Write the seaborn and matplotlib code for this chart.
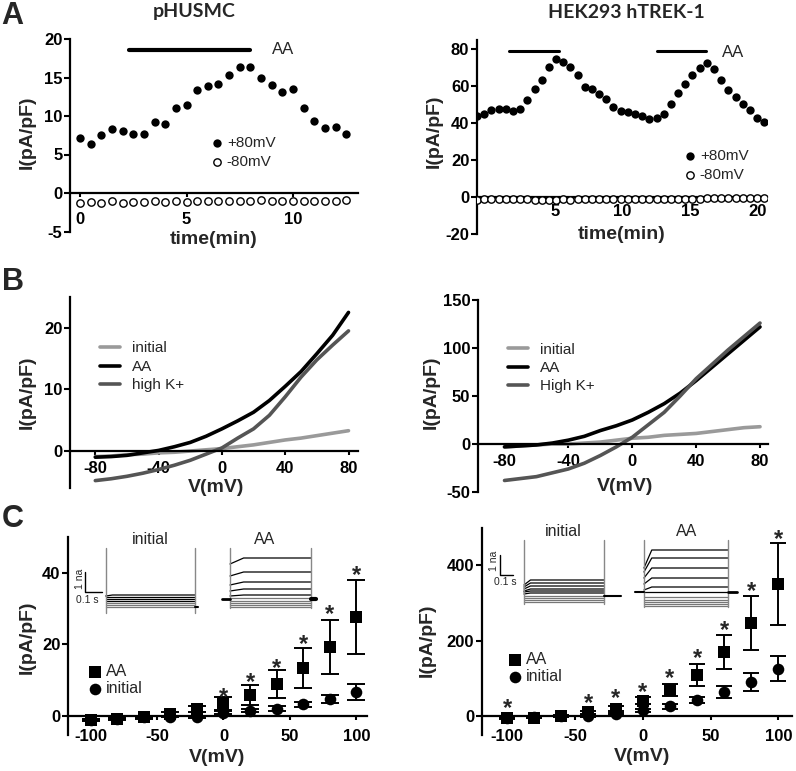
import matplotlib
matplotlib.use("Agg")
import matplotlib.pyplot as plt
import seaborn as sns

# ---------------- data ----------------
# A left: pHUSMC time course
a1_time = [0.0, 0.5, 1.0, 1.5, 2.0, 2.5, 3.0, 3.5, 4.0, 4.5, 5.0, 5.5, 6.0,
           6.5, 7.0, 7.5, 8.0, 8.5, 9.0, 9.5, 10.0, 10.5, 11.0, 11.5, 12.0, 12.5]
a1_pos80 = [7.2, 6.4, 7.5, 8.3, 8.1, 7.7, 7.6, 9.2, 9.0, 11.0, 11.4, 13.4, 13.9,
            14.2, 15.3, 16.3, 16.3, 15.0, 14.0, 13.1, 13.5, 11.1, 9.3, 8.5, 8.6, 7.6]
a1_neg80 = [-1.3, -1.2, -1.3, -1.1, -1.3, -1.2, -1.2, -1.1, -1.2, -1.1, -1.2, -1.1, -1.1,
            -1.1, -1.1, -1.0, -1.1, -0.9, -1.0, -1.0, -1.1, -1.0, -1.0, -1.1, -1.0, -0.9]
a1_aa_start = [2.3]
a1_aa_end = [8.0]
a1_aa_y = [18.6]

# A right: HEK293 hTREK-1 time course
a2_time = [-0.78, -0.25, 0.28, 0.82, 1.35, 1.88, 2.41, 2.94, 3.48, 4.01,
           4.54, 5.07, 5.60, 6.14, 6.67, 7.20, 7.73, 8.26, 8.80, 9.33,
           9.86, 10.39, 10.92, 11.46, 11.99, 12.52, 13.05, 13.58, 14.12, 14.65,
           15.18, 15.71, 16.24, 16.78, 17.31, 17.84, 18.37, 18.90, 19.44, 19.97, 20.50]
a2_pos80 = [43.8, 44.9, 47.1, 47.4, 47.4, 46.7, 47.6, 52.5, 58.3, 63.3,
            70.6, 74.7, 73.3, 70.6, 66.1, 59.7, 58.3, 55.6, 52.9, 48.5,
            46.5, 45.8, 44.9, 43.8, 42.5, 42.9, 45.2, 50.3, 56.1, 61.2,
            66.1, 69.7, 72.8, 69.3, 63.3, 57.9, 54.3, 50.3, 47.1, 42.9, 40.4]
a2_neg80 = [-1.4, -1.2, -1.0, -1.2, -1.1, -1.3, -1.1, -1.2, -1.6, -1.4,
            -1.5, -1.6, -1.3, -1.4, -1.2, -1.2, -1.0, -1.1, -0.8, -1.0,
            -0.8, -1.0, -0.9, -1.1, -0.9, -1.2, -0.8, -1.0, -0.9, -0.9,
            -1.2, -0.8, -0.6, -0.7, -0.5, -0.6, -0.5, -0.6, -0.5, -0.4, -0.7]
a2_aa_start = [1.61, 12.53]
a2_aa_end = [5.32, 16.18]
a2_aa_y = [79.2, 79.2]

# B: ramp I-V curves
b_volt = [-80, -70, -60, -50, -40, -30, -20, -10, 0, 10, 20, 30, 40, 50, 60, 70, 80]
b1_initial = [-0.9, -0.8, -0.6, -0.5, -0.3, -0.2, 0.0, 0.2, 0.4, 0.7, 1.0, 1.4, 1.8, 2.1, 2.5, 2.9, 3.3]
b1_aa = [-1.0, -0.9, -0.7, -0.3, 0.1, 0.7, 1.4, 2.4, 3.6, 4.9, 6.3, 8.2, 10.5, 12.9, 15.8, 18.8, 22.5]
b1_highk = [-4.8, -4.5, -4.1, -3.6, -3.0, -2.3, -1.5, -0.5, 0.5, 2.1, 3.6, 5.8, 8.8, 12.0, 14.8, 17.2, 19.5]
b2_initial = [-3, -2, -1, 0, 0, 1, 2, 4, 6, 7, 9, 10, 11, 13, 15, 17, 18]
b2_aa = [-3, -2, -1, 1, 4, 8, 14, 19, 25, 33, 42, 53, 66, 80, 94, 108, 122]
b2_highk = [-38, -36, -34, -30, -26, -20, -12, -3, 7, 20, 33, 50, 68, 83, 98, 112, 126]

# C: step I-V, mean +/- error
c_volt = [-100, -80, -60, -40, -20, 0, 20, 40, 60, 80, 100]
c1_aa = [-1.1, -0.7, -0.4, 0.6, 1.9, 3.5, 5.9, 8.9, 13.5, 19.3, 27.7]
c1_aa_err = [0.3, 0.3, 0.4, 0.5, 0.8, 1.7, 2.7, 3.9, 5.6, 7.5, 10.4]
c1_init = [-1.0, -0.7, -0.4, -0.2, -0.2, 0.9, 1.5, 2.1, 3.3, 4.7, 6.8]
c1_init_err = [0.2, 0.2, 0.2, 0.2, 0.3, 0.4, 0.5, 0.6, 0.7, 1.2, 2.2]
c1_star_x = [0, 20, 40, 60, 80, 100]
c1_star_y = [6.8, 10.8, 14.9, 21.4, 29.8, 40.9]

c2_aa = [-5, -4, 0, 10, 20, 41, 69, 109, 169, 247, 349]
c2_aa_err = [2, 2, 3, 4, 6, 10, 16, 29, 45, 72, 109]
c2_init = [-5, -3, -1, 0, 5, 16, 26, 42, 64, 91, 126]
c2_init_err = [1, 1, 1, 2, 3, 4, 6, 8, 16, 24, 34]
c2_star_x = [-100, -40, -20, 0, 20, 40, 60, 80, 100]
c2_star_y = [34, 47, 60, 77, 113, 166, 240, 344, 482]

# C insets: current traces (nA) during 0.5 s steps
c1_in_init_lv = [0.0, 0.1, 0.2, 0.3, 0.4, 0.5, 0.6]
c1_in_init_st = [0.0, 0.1, 0.2, 0.3, 0.4, 0.5, 0.55]
c1_in_aa_lv = [0.0, 0.1, 0.2, 0.3, 0.45, 0.6, 0.9, 1.25, 1.75, 2.45]
c1_in_aa_st = [0.0, 0.1, 0.2, 0.3, 0.45, 0.55, 0.8, 1.1, 1.55, 2.15]
c2_in_init_lv = [0.0, 0.1, 0.2, 0.3, 0.45, 0.55, 0.65, 0.8, 0.95, 1.1]
c2_in_init_st = [0.0, 0.1, 0.2, 0.3, 0.4, 0.5, 0.55, 0.65, 0.75, 0.85]
c2_in_aa_lv = [-0.2, -0.1, 0.0, 0.1, 0.25, 0.5, 0.75, 1.2, 1.7, 2.2, 2.6]
c2_in_aa_st = [-0.2, -0.1, 0.0, 0.1, 0.25, 0.5, 0.6, 0.9, 1.2, 1.5, 1.7]

# ---------------- style ----------------
sns.set_style("ticks")
plt.rcParams['font.family'] = ['Liberation Sans', 'DejaVu Sans']
plt.rcParams['font.weight'] = 'bold'          # tick labels bold like GraphPad
plt.rcParams['axes.unicode_minus'] = False

W, H = 796, 771
fig = plt.figure(figsize=(W / 100, H / 100), dpi=100)


def box(x0, y0, x1, y1):
    return [x0 / W, 1 - y1 / H, (x1 - x0) / W, (y1 - y0) / H]


def style(ax, xlim, ylim, xticks, yticks, xpad):
    sns.despine(ax=ax)
    ax.spines['bottom'].set_position(('data', 0))
    for s in ['left', 'bottom']:
        ax.spines[s].set_linewidth(1.6)
        ax.spines[s].set_color('black')
    ax.set_xlim(xlim)
    ax.set_ylim(ylim)
    ax.set_xticks(xticks)
    ax.set_yticks(yticks)
    ax.tick_params(axis='y', length=4, width=1.5, pad=1.5, labelsize=12, colors='black')
    ax.tick_params(axis='x', length=3, width=1.5, pad=xpad, labelsize=12, colors='black')


def labels(ax, xl, xpos, ypos):
    ax.set_xlabel(xl, fontsize=14, fontweight='bold')
    ax.set_ylabel('I(pA/pF)', fontsize=14, fontweight='bold')
    ax.xaxis.set_label_coords(*xpos)
    ax.yaxis.set_label_coords(*ypos)


def fig_text(x, y, s, **kw):
    fig.text(x / W, 1 - y / H, s, ha='center', va='center', **kw)


def plain(size):
    return {'size': size, 'weight': 'normal'}


# ---------------- A left ----------------
ax = fig.add_axes(box(70, 39, 358, 231.5))
sns.scatterplot(x=a1_time, y=a1_pos80, ax=ax, color='black', s=36, linewidth=0,
                label='+80mV', zorder=3)
sns.scatterplot(x=a1_time, y=a1_neg80, ax=ax, color='white', edgecolor='black', s=28,
                linewidth=1, label='-80mV', zorder=3)
for x0, x1, y in zip(a1_aa_start, a1_aa_end, a1_aa_y):
    ax.plot([x0, x1], [y, y], color='black', lw=3, solid_capstyle='round')
ax.text(9.0, 18.6, 'AA', fontsize=12, fontweight='normal', va='center', ha='left')
style(ax, (-0.47, 13.05), (-5, 20), [0, 5, 10], [-5, 0, 5, 10, 15, 20], 10.5)
labels(ax, 'time(min)', (0.497, 0.003), (-0.118, 0.517))
ax.legend(loc='center left', bbox_to_anchor=(0.489, 0.409), frameon=False, prop=plain(11),
          handlelength=0.8, handletextpad=0.25, labelspacing=0.32, borderpad=0,
          borderaxespad=0, scatterpoints=1)

# ---------------- A right ----------------
ax = fig.add_axes(box(477, 40, 767, 234))
sns.scatterplot(x=a2_time, y=a2_pos80, ax=ax, color='black', s=36, linewidth=0,
                label='+80mV', zorder=3)
sns.scatterplot(x=a2_time, y=a2_neg80, ax=ax, color='white', edgecolor='black', s=28,
                linewidth=1, label='-80mV', zorder=3)
for x0, x1, y in zip(a2_aa_start, a2_aa_end, a2_aa_y):
    ax.plot([x0, x1], [y, y], color='black', lw=2.2)
ax.text(17.35, 78.5, 'AA', fontsize=12, fontweight='normal', va='center', ha='left')
style(ax, (-0.78, 20.7), (-20, 85), [5, 10, 15, 20], [-20, 0, 20, 40, 60, 80], 1.8)
labels(ax, 'time(min)', (0.499, 0.041), (-0.117, 0.532))
ax.legend(loc='center left', bbox_to_anchor=(0.713, 0.353), frameon=False, prop=plain(11),
          handlelength=0.8, handletextpad=0.25, labelspacing=0.28, borderpad=0,
          borderaxespad=0, scatterpoints=1)

# ---------------- B ----------------
b_colors = ['#9a9a9a', 'black', '#555555']
for (x0, y0, x1, y1), curves, names, lim, yt, xl, yl, leg in [
        ((70, 297, 358, 488), [b1_initial, b1_aa, b1_highk], ['initial', 'AA', 'high K+'],
         ((-96, 86), (-6, 25)), [0, 10, 20], (0.506, 0.047), (-0.118, 0.50), (0.104, 0.634)),
        ((478, 300, 768, 492), [b2_initial, b2_aa, b2_highk], ['initial', 'AA', 'High K+'],
         ((-96.6, 85), (-50, 150)), [-50, 0, 50, 100, 150], (0.507, 0.073), (-0.131, 0.52),
         (0.103, 0.646))]:
    ax = fig.add_axes(box(x0, y0, x1, y1))
    for vals, name, col in zip(curves, names, b_colors):
        sns.lineplot(x=b_volt, y=vals, ax=ax, color=col, lw=2.6, label=name,
                     estimator=None, sort=False)
    style(ax, lim[0], lim[1], [-80, -40, 0, 40, 80], yt, 4)
    labels(ax, 'V(mV)', xl, yl)
    ax.legend(loc='center left', bbox_to_anchor=leg, frameon=False, prop=plain(11),
              handlelength=1.3, handletextpad=0.8, labelspacing=0.29, borderpad=0,
              borderaxespad=0)

# ---------------- C ----------------
for (x0, y0, x1, y1), aa, aae, ini, inie, sx, sy, lim, yt, xl, yl, leg, cap in [
        ((68, 537, 367, 735), c1_aa, c1_aa_err, c1_init, c1_init_err, c1_star_x, c1_star_y,
         ((-117, 108), (-5.3, 50)), [0, 20, 40], (0.497, -0.071), (-0.107, 0.495),
         (0.069, 0.278), 11),
        ((482, 528, 792, 735), c2_aa, c2_aa_err, c2_init, c2_init_err, c2_star_x, c2_star_y,
         ((-118.5, 110), (-50, 498)), [0, 200, 400], (0.516, -0.063), (-0.148, 0.459),
         (0.086, 0.324), 9.5)]:
    ax = fig.add_axes(box(x0, y0, x1, y1))
    ax.errorbar(c_volt, aa, yerr=aae, fmt='none', ecolor='black', elinewidth=1.4,
                capsize=cap / 2 + 1, capthick=1.4, zorder=2)
    ax.errorbar(c_volt, ini, yerr=inie, fmt='none', ecolor='black', elinewidth=1.4,
                capsize=cap / 2 + 1, capthick=1.4, zorder=2)
    sns.scatterplot(x=c_volt, y=aa, ax=ax, marker='s', color='black', s=72, linewidth=0,
                    label='AA', zorder=3)
    sns.scatterplot(x=c_volt, y=ini, ax=ax, marker='o', color='black', s=70, linewidth=0,
                    label='initial', zorder=3)
    for x, y in zip(sx, sy):
        ax.annotate('*', (x, y), xytext=(0, -4), textcoords='offset points', ha='center',
                    va='center', fontsize=17, fontweight='bold')
    style(ax, lim[0], lim[1], [-100, -50, 0, 50, 100], yt, 6.5)
    labels(ax, 'V(mV)', xl, yl)
    ax.legend(loc='center left', bbox_to_anchor=leg, frameon=False, prop=plain(11.5),
              handlelength=0.8, handletextpad=0.3, labelspacing=0.1, borderpad=0,
              borderaxespad=0, scatterpoints=1)


# ---------------- C insets ----------------
def traces(ax, t0, t1, lvs, sts, onset, cut):
    for lv, st in zip(lvs, sts):
        col = 'black' if lv > cut else '#777777'
        ax.plot([t0, t0 + onset, t1], [st, lv, lv], color=col, lw=0.9)


def inset_common(ax, xlim, ylim):
    ax.set_xlim(xlim)
    ax.set_ylim(ylim)
    ax.axis('off')


# left inset: 1 s = 170 px, 1 nA = 20 px
ax = fig.add_axes(box(70, 530, 330, 620))
inset_common(ax, (-0.21, 1.319), (-0.65, 3.85))
traces(ax, 0.0, 0.525, c1_in_init_lv, c1_in_init_st, 0.04, 0.25)
traces(ax, 0.731, 1.208, c1_in_aa_lv, c1_in_aa_st, 0.08, 0.5)
for t in [0.0, 0.525]:
    ax.plot([t, t], [-0.3, 2.95], color='#888888', lw=1)
for t in [0.731, 1.208]:
    ax.plot([t, t], [-0.05, 2.95], color='#888888', lw=1)
ax.plot([0.525, 0.54], [0.0, 0.0], color='black', lw=1.5)
ax.plot([0.682, 0.731], [0.4, 0.4], color='black', lw=2)
ax.plot([1.208, 1.237], [0.4, 0.4], color='black', lw=3)
ax.plot([-0.122, -0.122, -0.022], [1.75, 0.75, 0.75], color='black', lw=1)
ax.text(-0.154, 1.4, '1 na', rotation=90, fontsize=7.5, fontweight='normal', ha='center', va='center')
ax.text(-0.107, 0.35, '0.1 s', fontsize=7.5, fontweight='normal', ha='center', va='center')
ax.text(0.26, 3.35, 'initial', fontsize=11.5, fontweight='normal', ha='center', va='center')
ax.text(0.937, 3.35, 'AA', fontsize=11.5, fontweight='normal', ha='center', va='center')

# right inset: 1 s = 130 px, 1 nA = 20 px
ax = fig.add_axes(box(480, 520, 745, 612))
inset_common(ax, (-0.338, 1.70), (-0.5, 4.1))
traces(ax, 0.0, 0.615, c2_in_init_lv, c2_in_init_st, 0.05, 0.35)
traces(ax, 0.923, 1.569, c2_in_aa_lv, c2_in_aa_st, 0.06, 0.4)
for t in [0.0, 0.615]:
    ax.plot([t, t], [-0.1, 3.1], color='#888888', lw=1)
for t in [0.923, 1.569]:
    ax.plot([t, t], [-0.25, 3.1], color='#888888', lw=1)
ax.plot([0.615, 0.75], [0.3, 0.3], color='black', lw=1.5)
ax.plot([0.854, 0.923], [0.5, 0.5], color='black', lw=1.5)
ax.plot([1.569, 1.638], [0.5, 0.5], color='black', lw=2)
ax.plot([-0.185, -0.185, -0.085], [2.35, 1.35, 1.35], color='black', lw=1)
ax.text(-0.227, 2.05, '1 na', rotation=90, fontsize=7.5, fontweight='normal', ha='center', va='center')
ax.text(-0.142, 1.0, '0.1 s', fontsize=7.5, fontweight='normal', ha='center', va='center')
ax.text(0.3, 3.5, 'initial', fontsize=11.5, fontweight='normal', ha='center', va='center')
ax.text(1.254, 3.5, 'AA', fontsize=11.5, fontweight='normal', ha='center', va='center')

# ---------------- titles and panel letters ----------------
fig_text(194, 11, 'pHUSMC', fontsize=14, fontweight='bold', family=['Lato', 'DejaVu Sans'])
fig_text(626, 12, 'HEK293 hTREK-1', fontsize=14, fontweight='bold', family=['Lato', 'DejaVu Sans'])
fig_text(12, 16, 'A', fontsize=22, fontweight='bold')
fig_text(13, 282, 'B', fontsize=22, fontweight='bold')
fig_text(13, 519, 'C', fontsize=22, fontweight='bold')

fig.savefig('out.png', dpi=100)
